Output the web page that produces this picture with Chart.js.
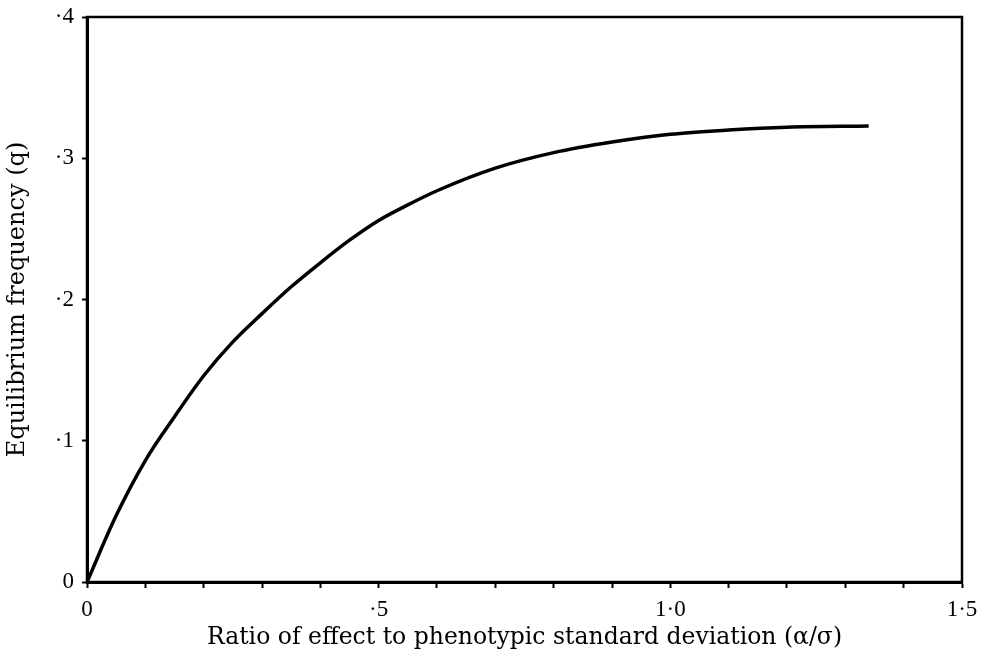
<!DOCTYPE html>
<html>
<head>
<meta charset="utf-8">
<script src="https://cdn.jsdelivr.net/npm/chart.js@4"></script>
<style>
  html, body { margin: 0; padding: 0; background: #fff; }
  canvas { display: block; }
</style>
</head>
<body>
<canvas id="chart" width="983" height="656"></canvas>
<script>
// ratio of effect to phenotypic s.d. (alpha/sigma)
const ratio = [0, 0.05, 0.1, 0.15, 0.2, 0.25, 0.3, 0.35, 0.4, 0.45, 0.5, 0.55, 0.6, 0.7, 0.8, 0.9, 1.0, 1.1, 1.2, 1.34];
// equilibrium frequency q
const freq  = [0, 0.047, 0.086, 0.117, 0.146, 0.170, 0.190, 0.209, 0.226, 0.242, 0.256, 0.267, 0.277, 0.293, 0.304, 0.3115, 0.317, 0.320, 0.322, 0.3228];

const xTitle = 'Ratio of effect to phenotypic standard deviation (α/σ)';
const yTitle = 'Equilibrium frequency (q)';

const SERIF = '"Liberation Serif", serif';
const WIDE_SERIF = '"DejaVu Serif", serif';

// 0.5 -> "·5", 1.0 -> "1·0", 0 -> "0"
function fmt(v) {
    if (Math.abs(v) < 1e-9) return '0';
    let s = v.toFixed(1).replace('.', '·');
    if (s.startsWith('0')) s = s.slice(1);
    return s;
}

// frame round the plot area
const frame = {
    id: 'frame',
    afterDraw(chart) {
        const { ctx, chartArea: a } = chart;
        ctx.save();
        ctx.strokeStyle = '#000';
        ctx.lineWidth = 2.5;
        ctx.strokeRect(a.left, a.top, a.right - a.left, a.bottom - a.top);
        ctx.restore();
    }
};

new Chart(document.getElementById('chart'), {
    type: 'line',
    data: {
        datasets: [{
            data: ratio.map((x, i) => ({ x, y: freq[i] })),
            borderColor: '#000',
            borderWidth: 3.5,
            pointRadius: 0,
            cubicInterpolationMode: 'monotone',
            fill: false
        }]
    },
    options: {
        responsive: false,
        animation: false,
        layout: { padding: { top: 17, right: 21, left: 0, bottom: 0 } },
        plugins: { legend: { display: false }, tooltip: { enabled: false } },
        scales: {
            x: {
                type: 'linear',
                min: 0, max: 1.5,
                afterFit: s => { s.height = 74; s.paddingLeft = 0; s.paddingRight = 0; },
                border: { display: true, color: '#000', width: 3 },
                grid: { drawOnChartArea: false, drawTicks: true, tickLength: 6, tickColor: '#000', tickWidth: 2 },
                ticks: {
                    stepSize: 0.1,
                    autoSkip: false,
                    maxRotation: 0,
                    padding: 8,
                    color: '#000',
                    font: { family: SERIF, size: 23 },
                    callback: v => (Math.abs(v * 2 - Math.round(v * 2)) < 1e-6 ? fmt(v) : '')
                },
                title: {
                    display: true, text: xTitle, color: '#000',
                    font: { family: WIDE_SERIF, size: 23.5 },
                    padding: { top: 0, bottom: 4 }
                }
            },
            y: {
                min: 0, max: 0.4,
                afterFit: s => { s.width = 87; s.paddingTop = 0; s.paddingBottom = 0; },
                border: { display: true, color: '#000', width: 3 },
                grid: { drawOnChartArea: false, drawTicks: true, tickLength: 5, tickColor: '#000', tickWidth: 2 },
                ticks: {
                    stepSize: 0.1,
                    padding: 8,
                    color: '#000',
                    font: { family: SERIF, size: 23 },
                    callback: v => fmt(v)
                },
                title: {
                    display: true, text: yTitle, color: '#000',
                    font: { family: WIDE_SERIF, size: 24 },
                    padding: { top: 3, bottom: 0 }
                }
            }
        }
    },
    plugins: [frame]
});
</script>
</body>
</html>
